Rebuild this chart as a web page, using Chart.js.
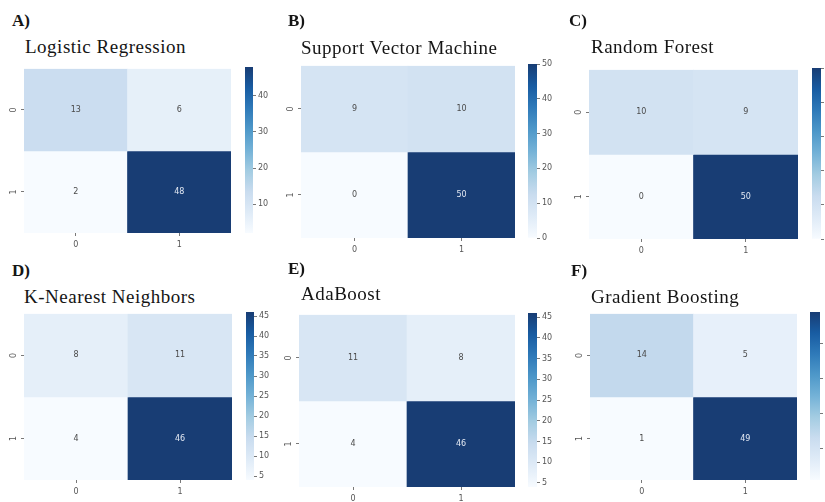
<!DOCTYPE html>
<html>
<head>
<meta charset="utf-8">
<script src="https://cdn.jsdelivr.net/npm/chart.js@4"></script>
<style>
  html, body { margin: 0; padding: 0; background: #fff; width: 825px; height: 502px; overflow: hidden; position: relative; }
  canvas { position: absolute; }
  .tag { position: absolute; font-family: "Liberation Serif", serif; font-weight: bold; font-size: 17px; line-height: 1; color: #151515; white-space: nowrap; }
  .name { position: absolute; font-family: "Liberation Serif", serif; font-size: 19px; letter-spacing: 0.5px; line-height: 1; color: #151515; white-space: nowrap; }
</style>
</head>
<body>
<script>
// Panel captions
const panelTags = ['A)', 'B)', 'C)', 'D)', 'E)', 'F)'];
const modelNames = ['Logistic Regression', 'Support Vector Machine', 'Random Forest',
                    'K-Nearest Neighbors', 'AdaBoost', 'Gradient Boosting'];
const classLabels = ['0', '1'];

// Confusion matrices: rows = true class, columns = predicted class
const logisticRegression   = [[13, 6], [2, 48]];
const supportVectorMachine = [[9, 10], [0, 50]];
const randomForest         = [[10, 9], [0, 50]];
const kNearestNeighbors    = [[8, 11], [4, 46]];
const adaBoost             = [[11, 8], [4, 46]];
const gradientBoosting     = [[14, 5], [1, 49]];

// Colour-bar tick spacing per panel
const colorbarSteps = [10, 10, 10, 5, 5, 10];

const matrices = [logisticRegression, supportVectorMachine, randomForest,
                  kNearestNeighbors, adaBoost, gradientBoosting];

// Page placement of each panel (captions, heatmap box, colour-bar x-range)
const placement = [
  { tag: [12, 12],  name: [25, 37],  map: [24, 67, 231, 233],  bar: [245, 253] },
  { tag: [288, 12], name: [301, 38], map: [301, 64, 515, 238], bar: [528, 537] },
  { tag: [569, 12], name: [591, 37], map: [589, 68, 798, 239], bar: [812, 821] },
  { tag: [12, 262], name: [24, 287], map: [24, 312, 232, 480], bar: [246, 254] },
  { tag: [288, 260], name: [301, 284], map: [299, 313, 515, 487], bar: [528, 537] },
  { tag: [571, 262], name: [591, 287], map: [590, 312, 797, 480], bar: [810, 820] }
];

// matplotlib "Blues" colormap anchor colours, printed with a slight wash
const bluesStops = ['#f7fbff', '#deebf7', '#c6dbef', '#9ecae1', '#6baed6',
                    '#4292c6', '#2171b5', '#08519c', '#08306b'];
const wash = 0.07;
function hexRgb(h) { return [1, 3, 5].map(k => parseInt(h.substr(k, 2), 16)); }
function washed(rgb) { return rgb.map(v => Math.round(v + (235 - v) * wash * (v < 235 ? 1 : 0))); }
function rgbStr(c) { return `rgb(${c[0]},${c[1]},${c[2]})`; }
const washedStops = bluesStops.map(h => washed(hexRgb(h)));
function blues(t) {
  t = Math.max(0, Math.min(1, t));
  const p = t * (washedStops.length - 1);
  const k = Math.min(Math.floor(p), washedStops.length - 2);
  const f = p - k;
  const a = washedStops[k], b = washedStops[k + 1];
  return rgbStr(a.map((v, j) => Math.round(v + (b[j] - v) * f)));
}

const tickFont = { family: 'DejaVu Sans', size: 8 };
const tickColor = '#555';

function makeCanvas(left, top, w, h) {
  const cv = document.createElement('canvas');
  cv.width = w; cv.height = h;
  cv.style.left = left + 'px'; cv.style.top = top + 'px';
  cv.style.width = w + 'px'; cv.style.height = h + 'px';
  document.body.appendChild(cv);
  return cv;
}

// Writes the count in the middle of every cell
const cellText = {
  id: 'cellText',
  afterDatasetsDraw(chart) {
    const { ctx, scales: { x, y } } = chart;
    const { lo, hi } = chart.options.plugins.cellText;
    ctx.save();
    ctx.font = '8px "DejaVu Sans"';
    ctx.textAlign = 'center';
    ctx.textBaseline = 'middle';
    chart.data.datasets.forEach((ds, ri) => {
      ds.counts.forEach((v, ci) => {
        const t = (v - lo) / (hi - lo);
        ctx.fillStyle = t > 0.6 ? '#e3e9f3' : '#4a4a4a';
        ctx.fillText(String(v), x.getPixelForValue(ci), y.getPixelForValue(ri + 0.5));
      });
    });
    ctx.restore();
  }
};

function drawHeatmap(i) {
  const matrix = matrices[i];
  const [l, t, r, b] = placement[i].map;
  const yw = 24, xh = 22, pad = 8;
  const w = r - l + yw + pad, h = b - t + pad + xh;
  const cv = makeCanvas(l - yw, t - pad, w, h);
  const flat = matrix.flat();
  const lo = Math.min(...flat), hi = Math.max(...flat);
  const datasets = matrix.map((row, ri) => ({
    data: row.map(() => [ri, ri + 1]),
    counts: row,
    backgroundColor: row.map(v => blues((v - lo) / (hi - lo))),
    grouped: false,
    barPercentage: 1,
    categoryPercentage: 1,
    borderWidth: 0
  }));
  new Chart(cv, {
    type: 'bar',
    data: { labels: classLabels, datasets },
    options: {
      responsive: false, animation: false, devicePixelRatio: 1,
      layout: { padding: { top: pad, right: pad, left: 0, bottom: 0 } },
      plugins: { legend: { display: false }, tooltip: { enabled: false }, cellText: { lo, hi } },
      scales: {
        x: {
          ticks: { font: tickFont, color: tickColor, padding: 4 },
          grid: { drawOnChartArea: false, offset: false, tickLength: 3, color: tickColor, tickWidth: 0.8 },
          border: { display: false },
          afterFit(s) { s.height = xh; }
        },
        y: {
          min: 0, max: 2, reverse: true,
          afterBuildTicks(s) { s.ticks = [{ value: 0.5 }, { value: 1.5 }]; },
          ticks: {
            font: tickFont, color: tickColor, padding: 5,
            minRotation: 90, maxRotation: 90, crossAlign: 'center',
            callback: v => classLabels[Math.floor(v)]
          },
          grid: { drawOnChartArea: false, tickLength: 3, color: tickColor, tickWidth: 0.8 },
          border: { display: false },
          afterFit(s) { s.width = yw; }
        }
      }
    },
    plugins: [cellText]
  });
}

function drawColorbar(i) {
  const matrix = matrices[i];
  const [, t, , b] = placement[i].map;
  const [cl, cr] = placement[i].bar;
  const aw = 24, pad = 8;
  const w = cr - cl + pad + aw, h = b - t + 2 * pad;
  const cv = makeCanvas(cl - pad, t - pad, w, h);
  const flat = matrix.flat();
  const lo = Math.min(...flat), hi = Math.max(...flat);
  new Chart(cv, {
    type: 'bar',
    data: {
      labels: [''],
      datasets: [{
        data: [[lo, hi]],
        barPercentage: 1, categoryPercentage: 1, borderWidth: 0,
        backgroundColor(c) {
          const ca = c.chart.chartArea;
          if (!ca) return blues(0.5);
          const g = c.chart.ctx.createLinearGradient(0, ca.bottom, 0, ca.top);
          washedStops.forEach((col, k) => g.addColorStop(k / (washedStops.length - 1), rgbStr(col)));
          return g;
        }
      }]
    },
    options: {
      responsive: false, animation: false, devicePixelRatio: 1,
      layout: { padding: { left: pad, top: pad, bottom: pad, right: 0 } },
      plugins: { legend: { display: false }, tooltip: { enabled: false } },
      scales: {
        x: { display: false },
        y: {
          position: 'right', min: lo, max: hi,
          ticks: { stepSize: colorbarSteps[i], includeBounds: false, font: tickFont, color: tickColor, padding: 2 },
          grid: { drawOnChartArea: false, tickLength: 3, color: tickColor, tickWidth: 0.8 },
          border: { display: false },
          afterFit(s) { s.width = aw; }
        }
      }
    }
  });
}

function drawCaption(i) {
  const p = placement[i];
  const tag = document.createElement('div');
  tag.className = 'tag';
  tag.textContent = panelTags[i];
  tag.style.left = p.tag[0] + 'px'; tag.style.top = p.tag[1] + 'px';
  document.body.appendChild(tag);
  const name = document.createElement('div');
  name.className = 'name';
  name.textContent = modelNames[i];
  name.style.left = p.name[0] + 'px'; name.style.top = p.name[1] + 'px';
  document.body.appendChild(name);
}

for (let i = 0; i < matrices.length; i++) {
  drawCaption(i);
  drawHeatmap(i);
  drawColorbar(i);
}
</script>
</body>
</html>
